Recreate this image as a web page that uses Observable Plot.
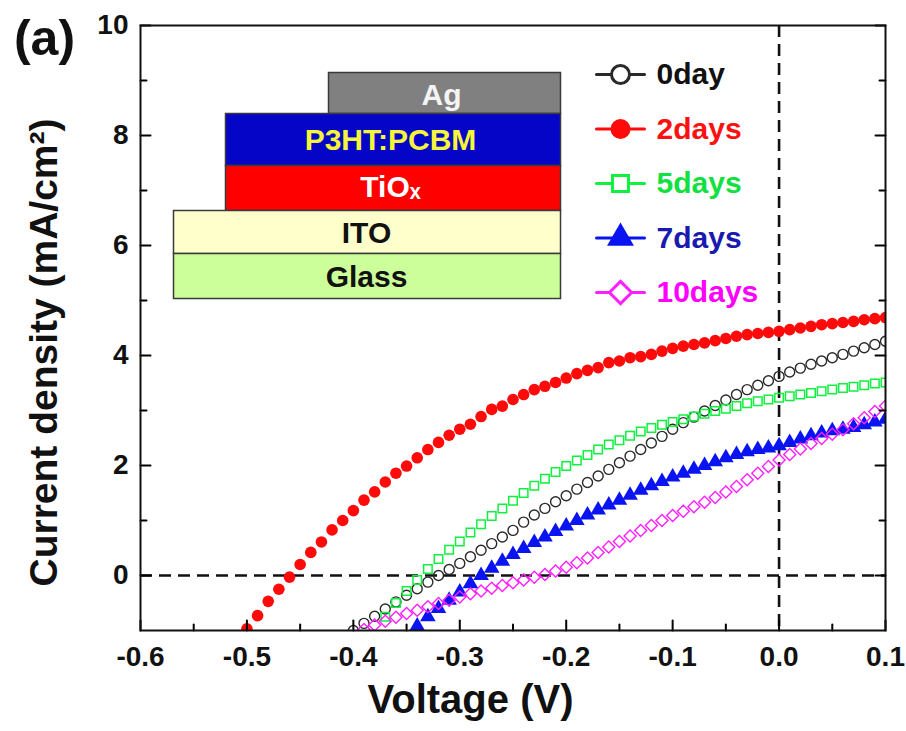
<!DOCTYPE html>
<html><head><meta charset="utf-8">
<script src="https://cdn.jsdelivr.net/npm/d3@7"></script>
<script src="https://cdn.jsdelivr.net/npm/@observablehq/plot@0.6"></script>
<style>
html,body{margin:0;padding:0;background:#fff;}
#chart{width:906px;height:731px;}
</style></head><body><div id="chart"></div>
<script>
// ---------- DATA ----------
const voltage = [-0.50,-0.49,-0.48,-0.47,-0.46,-0.45,-0.44,-0.43,-0.42,-0.41,
  -0.40,-0.39,-0.38,-0.37,-0.36,-0.35,-0.34,-0.33,-0.32,-0.31,
  -0.30,-0.29,-0.28,-0.27,-0.26,-0.25,-0.24,-0.23,-0.22,-0.21,
  -0.20,-0.19,-0.18,-0.17,-0.16,-0.15,-0.14,-0.13,-0.12,-0.11,
  -0.10,-0.09,-0.08,-0.07,-0.06,-0.05,-0.04,-0.03,-0.02,-0.01,
  0.00,0.01,0.02,0.03,0.04,0.05,0.06,0.07,0.08,0.09,0.10];
const day0 = [null,null,null,null,null,null,null,null,null,null,
  -1.00,-0.87,-0.74,-0.61,-0.48,-0.36,-0.24,-0.12,0.00,0.11,
  0.22,0.34,0.46,0.58,0.70,0.82,0.97,1.10,1.22,1.34,
  1.45,1.57,1.69,1.81,1.93,2.05,2.17,2.29,2.41,2.53,
  2.66,2.78,2.88,2.99,3.09,3.19,3.29,3.38,3.46,3.54,
  3.62,3.70,3.77,3.84,3.90,3.96,4.02,4.08,4.14,4.20,4.26];
const day2 = [-0.97,-0.73,-0.47,-0.25,-0.03,0.20,0.42,0.61,0.83,1.00,
  1.18,1.37,1.52,1.70,1.86,1.99,2.14,2.29,2.42,2.55,
  2.66,2.75,2.89,3.02,3.08,3.20,3.29,3.38,3.44,3.51,
  3.59,3.67,3.73,3.78,3.87,3.90,3.96,3.98,4.02,4.08,
  4.13,4.17,4.20,4.23,4.27,4.31,4.35,4.38,4.40,4.42,
  4.44,4.47,4.50,4.53,4.56,4.58,4.60,4.62,4.65,4.67,4.69];
const day5 = [null,null,null,null,null,null,null,null,null,null,
  null,null,null,-0.75,-0.50,-0.28,-0.08,0.12,0.30,0.47,
  0.62,0.78,0.93,1.08,1.22,1.36,1.50,1.63,1.76,1.88,
  1.99,2.09,2.19,2.29,2.38,2.46,2.54,2.62,2.68,2.74,
  2.79,2.84,2.89,2.94,2.99,3.03,3.08,3.13,3.17,3.20,
  3.23,3.26,3.29,3.32,3.35,3.38,3.41,3.43,3.46,3.49,3.51];
const day7 = [null,null,null,null,null,null,null,null,null,null,
  null,null,null,null,null,null,-0.92,-0.75,-0.60,-0.45,
  -0.30,-0.15,0.00,0.13,0.26,0.38,0.49,0.60,0.70,0.80,
  0.90,1.00,1.10,1.19,1.28,1.37,1.46,1.55,1.63,1.71,
  1.79,1.86,1.93,2.00,2.07,2.14,2.20,2.25,2.29,2.32,
  2.36,2.42,2.48,2.54,2.59,2.63,2.66,2.69,2.74,2.79,2.84];
const day10 = [null,null,null,null,null,null,null,null,null,null,
  null,-0.98,-0.90,-0.83,-0.76,-0.69,-0.63,-0.57,-0.51,-0.45,
  -0.39,-0.33,-0.28,-0.23,-0.18,-0.13,-0.08,-0.03,0.02,0.08,
  0.15,0.23,0.32,0.42,0.52,0.62,0.72,0.82,0.91,1.00,
  1.09,1.17,1.25,1.33,1.42,1.52,1.62,1.74,1.86,1.98,
  2.10,2.20,2.30,2.40,2.49,2.57,2.65,2.76,2.87,2.98,3.08];
const seriesNames = ["0day","2days","5days","7days","10days"];
const seriesValues = [day0, day2, day5, day7, day10];
const xTicks = [-0.6,-0.5,-0.4,-0.3,-0.2,-0.1,0.0,0.1];
const xMinorTicks = [-0.55,-0.45,-0.35,-0.25,-0.15,-0.05,0.05];
const yTicks = [0,2,4,6,8,10];
const yMinorTicks = [1,3,5,7,9];
const insetLayers = ["Ag","P3HT:PCBM","TiOₓ","ITO","Glass"];

// ---------- STYLE / LAYOUT ----------
const W = 906, H = 731;
const M = {left: 140, right: 21, top: 25, bottom: 101};
const frameW = W - M.left - M.right, frameH = H - M.top - M.bottom;
const FONT = "'Liberation Sans', Arial, Helvetica, sans-serif";
const seriesStyle = [
  {fill: "none", stroke: "#2a2a2a", symbol: "circle", r: 5.0, sw: 1.4, text: "#111", lr: 9},
  {fill: "#ff0a0a", stroke: "none", symbol: "circle", r: 5.8, sw: 0, text: "#ff1010", lr: 10},
  {fill: "none", stroke: "#10f040", symbol: "square", r: 4.8, sw: 1.5, text: "#10e040", lr: 9},
  {fill: "#0a14f0", stroke: "none", symbol: "triangle", r: 5.8, sw: 0, text: "#1a1ab0", lr: 10},
  {fill: "none", stroke: "#ff20ff", symbol: "diamond2", r: 5.4, sw: 1.4, text: "#ff00ff", lr: 10}
];
const insetStyle = [
  {fill: "#808080", text: "#f4f4f4", x0: 328, x1: 560, y0: 72, y1: 113, tx: 441, ty: 95},
  {fill: "#0505c8", text: "#f5f53a", x0: 225, x1: 560, y0: 113, y1: 165, tx: 390, ty: 140},
  {fill: "#ff0000", text: "#ffffff", x0: 225, x1: 560, y0: 165, y1: 210, tx: 390, ty: 187},
  {fill: "#ffffcc", text: "#111111", x0: 173, x1: 560, y0: 210, y1: 253, tx: 366, ty: 233},
  {fill: "#ccff99", text: "#111111", x0: 173, x1: 560, y0: 253, y1: 298, tx: 366, ty: 277}
];
const legendLayout = {markerX: 620, lineHalf: 24, textX: 656, y0: 74, dy: 54.5};

const tickShape = {draw(ctx, l) { ctx.moveTo(0, 0); ctx.lineTo(0, -l); }};

// ---------- MARKS ----------
const marks = [];
marks.push(Plot.ruleY([0], {stroke: "#111", strokeWidth: 2.4, strokeDasharray: "12,7"}));
marks.push(Plot.ruleX([0], {stroke: "#111", strokeWidth: 2.6, strokeDasharray: "12,7"}));

seriesNames.forEach((name, i) => {
  const st = seriesStyle[i];
  const pts = voltage.map((v, k) => ({v, j: seriesValues[i][k]})).filter(d => d.j != null);
  marks.push(Plot.dot(pts, {
    x: "v", y: "j", symbol: st.symbol, r: st.r,
    fill: st.fill, stroke: st.stroke, strokeWidth: st.sw, clip: true
  }));
});

insetLayers.forEach((name, i) => {
  const s = insetStyle[i];
  marks.push(Plot.frame({
    fill: s.fill, stroke: "#3a3a3a", strokeWidth: 1.5,
    insetLeft: s.x0 - M.left, insetRight: W - M.right - s.x1,
    insetTop: s.y0 - M.top, insetBottom: H - M.bottom - s.y1
  }));
  marks.push(Plot.text([name], {
    frameAnchor: "top-left", dx: s.tx - M.left, dy: s.ty - M.top,
    text: d => d, fill: s.text, fontSize: 30, fontWeight: "bold",
    textAnchor: "middle", lineAnchor: "middle"
  }));
});

seriesNames.forEach((name, i) => {
  const st = seriesStyle[i];
  const dy = legendLayout.y0 + i * legendLayout.dy - M.top;
  marks.push(Plot.vector([name], {
    frameAnchor: "top-left", dx: legendLayout.markerX - M.left, dy,
    rotate: 90, length: legendLayout.lineHalf * 2, anchor: "middle",
    shape: tickShape, stroke: st.fill !== "none" ? st.fill : st.stroke, strokeWidth: 3
  }));
  marks.push(Plot.dot([name], {
    frameAnchor: "top-left", dx: legendLayout.markerX - M.left, dy,
    symbol: st.symbol, r: st.lr,
    fill: st.fill === "none" ? "white" : st.fill,
    stroke: st.stroke === "none" ? st.fill : st.stroke,
    strokeWidth: st.fill === "none" ? 3 : 0
  }));
  marks.push(Plot.text([name], {
    frameAnchor: "top-left", dx: legendLayout.textX - M.left, dy,
    text: d => d, fill: st.text, fontSize: 30, fontWeight: "bold",
    textAnchor: "start", lineAnchor: "middle"
  }));
});

marks.push(Plot.vector(xTicks, {x: d => d, frameAnchor: "bottom", rotate: 0, length: 10, anchor: "start", shape: tickShape, stroke: "black", strokeWidth: 2}));
marks.push(Plot.vector(xMinorTicks, {x: d => d, frameAnchor: "bottom", rotate: 0, length: 6, anchor: "start", shape: tickShape, stroke: "black", strokeWidth: 2}));
marks.push(Plot.vector(yTicks, {y: d => d, frameAnchor: "left", rotate: 90, length: 10, anchor: "start", shape: tickShape, stroke: "black", strokeWidth: 2}));
marks.push(Plot.vector(yMinorTicks, {y: d => d, frameAnchor: "left", rotate: 90, length: 6, anchor: "start", shape: tickShape, stroke: "black", strokeWidth: 2}));
marks.push(Plot.vector(yTicks, {y: d => d, frameAnchor: "right", rotate: -90, length: 10, anchor: "start", shape: tickShape, stroke: "black", strokeWidth: 2}));
marks.push(Plot.vector(yMinorTicks, {y: d => d, frameAnchor: "right", rotate: -90, length: 6, anchor: "start", shape: tickShape, stroke: "black", strokeWidth: 2}));

marks.push(Plot.axisX(xTicks, {anchor: "bottom", tickSize: 0, tickPadding: 16, label: null,
  tickFormat: d => d.toFixed(1), fontSize: 28, fontWeight: "bold", fill: "#111"}));
marks.push(Plot.axisY(yTicks, {anchor: "left", tickSize: 0, tickPadding: 12, label: null,
  tickFormat: d => String(d), fontSize: 28, fontWeight: "bold", fill: "#111"}));

marks.push(Plot.text(["Voltage (V)"], {frameAnchor: "bottom", dx: 470 - (M.left + frameW / 2), dy: 70,
  text: d => d, fontSize: 40, fontWeight: "bold", fill: "#111", textAnchor: "middle", lineAnchor: "middle"}));
marks.push(Plot.text(["Current density (mA/cm²)"], {frameAnchor: "left", dx: 44 - M.left, dy: 352 - (M.top + frameH / 2),
  rotate: -90, text: d => d, fontSize: 39, fontWeight: "bold", fill: "#111", textAnchor: "middle", lineAnchor: "middle"}));
marks.push(Plot.text(["(a)"], {frameAnchor: "top-left", dx: 44 - M.left, dy: 38 - M.top,
  text: d => d, fontSize: 50, fontWeight: "bold", fill: "#111", textAnchor: "middle", lineAnchor: "middle"}));

marks.push(Plot.frame({stroke: "#111", strokeWidth: 2}));

const chart = Plot.plot({
  width: W, height: H,
  marginLeft: M.left, marginRight: M.right, marginTop: M.top, marginBottom: M.bottom,
  x: {domain: [-0.6, 0.1]},
  y: {domain: [-1, 10]},
  style: {fontFamily: FONT, background: "white", color: "#111", overflow: "visible"},
  marks
});
document.getElementById("chart").appendChild(chart);
</script>
</body></html>
